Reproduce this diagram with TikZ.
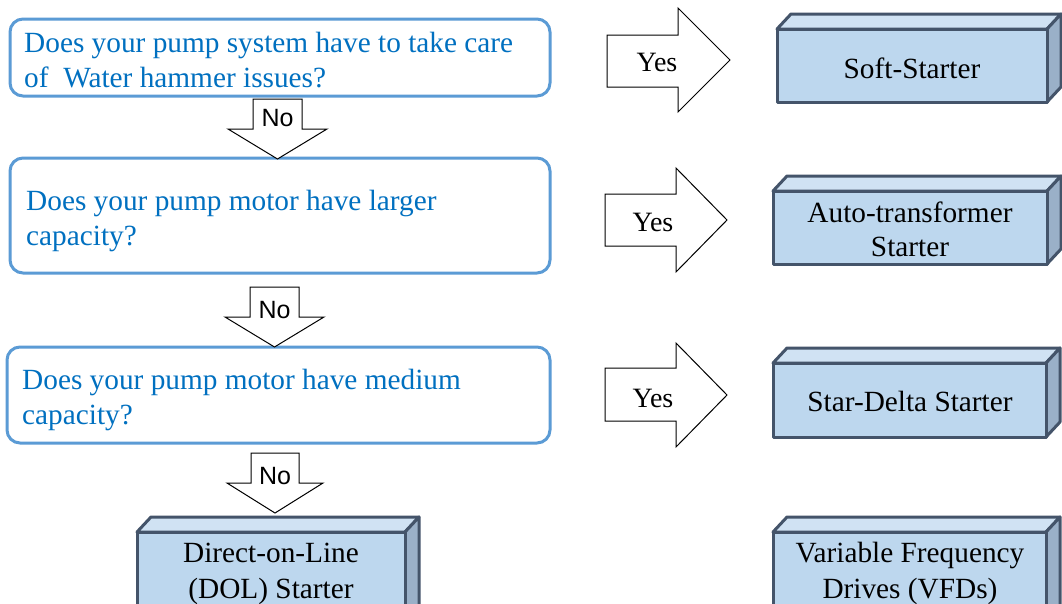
\documentclass[tikz,border=0pt]{standalone}
\usepackage{fontspec}
\setmainfont{Liberation Serif}
\newfontfamily\arialf{Liberation Sans}
\definecolor{qblue}{HTML}{0070C0}
\definecolor{qborder}{HTML}{5B9BD5}
\definecolor{cfront}{HTML}{BDD7EE}
\definecolor{ctop}{HTML}{D0E2F3}
\definecolor{cside}{HTML}{9AB0C8}
\definecolor{cedge}{HTML}{44546A}
\newcommand\mycube[4]{%
  \filldraw[cubeedge,fill=ctop] (#1,#2) -- (#1+14,#2-15) -- (#3+14,#2-15) -- (#3,#2) -- cycle;
  \filldraw[cubeedge,fill=cside] (#3,#2) -- (#3+14,#2-15) -- (#3+14,#4-15) -- (#3,#4) -- cycle;
  \filldraw[cubeedge,fill=cfront] (#1,#2) rectangle (#3,#4);}
\tikzset{
  qbox/.style={draw=qborder,line width=3pt,rounded corners=13pt,fill=white},
  qtext/.style={text=qblue,font=\fontsize{29.3}{35}\selectfont,inner sep=0pt,anchor=base west},
  cubeedge/.style={draw=cedge,line width=3pt,line join=round},
  ctext/.style={text=black,font=\fontsize{29.3}{35}\selectfont,inner sep=0pt,anchor=base},
  blockarrow/.style={draw=black,line width=1pt,fill=white,line join=miter},
  yestext/.style={font=\fontsize{28}{32}\selectfont,inner sep=0pt,anchor=base},
  notext/.style={font=\arialf\fontsize{25}{29}\selectfont,inner sep=0pt,anchor=base},
}
\begin{document}
\begin{tikzpicture}[x=1pt,y=-1pt]
\useasboundingbox (0,0) rectangle (1062,603);
\clip (0,0) rectangle (1062,603);
\fill[white] (0,0) rectangle (1062,603);

% question boxes
\draw[qbox] (10,19) rectangle (550,96);
\node[qtext] (q1a) at (24,52) {Does your pump system have to take care};
\node[qtext] (q1b) at (24,87) {of\ \ Water hammer issues?};

\draw[qbox] (10,158) rectangle (550,273);
\node[qtext] (q2a) at (26,210) {Does your pump motor have larger};
\node[qtext] (q2b) at (26,245) {capacity?};

\draw[qbox] (7,347) rectangle (550,443);
\node[qtext] (q3a) at (22,389) {Does your pump motor have medium};
\node[qtext] (q3b) at (22,424) {capacity?};

% No arrows
\draw[blockarrow] (253,99) -- (302,99) -- (302,129) -- (327,129) -- (277.5,159) -- (228,129) -- (253,129) -- cycle;
\node[notext] (no1) at (277.5,126) {No};
\draw[blockarrow] (250,287) -- (299,287) -- (299,317) -- (324,317) -- (274.5,347) -- (225,317) -- (250,317) -- cycle;
\node[notext] (no2) at (274.5,318) {No};
\draw[blockarrow] (251,453) -- (299,453) -- (299,483) -- (323,483) -- (275,513) -- (227,483) -- (251,483) -- cycle;
\node[notext] (no3) at (275,484) {No};

% Yes arrows
\draw[blockarrow] (607,35) -- (678,35) -- (678,8) -- (730,60) -- (678,112) -- (678,87) -- (607,87) -- cycle;
\node[yestext] (yes1) at (657,71) {Yes};
\draw[blockarrow] (605,194) -- (676,194) -- (676,168) -- (727,220) -- (676,272) -- (676,246) -- (605,246) -- cycle;
\node[yestext] (yes2) at (653,231) {Yes};
\draw[blockarrow] (605,368) -- (676,368) -- (676,343) -- (727,395) -- (676,447) -- (676,421) -- (605,421) -- cycle;
\node[yestext] (yes3) at (653,407) {Yes};

% cuboids
\mycube{777}{29}{1047}{102}
\node[ctext] (soft) at (912,78) {Soft-Starter};

\mycube{773}{191}{1047}{264}
\node[ctext] (auto1) at (910,222) {Auto-transformer};
\node[ctext] (auto2) at (910,256) {Starter};

\mycube{773}{363}{1046}{437}
\node[ctext] (star) at (910,411) {Star-Delta Starter};

\mycube{773}{532}{1046}{625}
\node[ctext] (vfd1) at (910,562) {Variable Frequency};
\node[ctext] (vfd2) at (910,598) {Drives (VFDs)};

\mycube{137}{532}{405}{625}
\node[ctext] (dol1) at (271,562) {Direct-on-Line};
\node[ctext] (dol2) at (271,598) {(DOL) Starter};
\end{tikzpicture}
\end{document}
